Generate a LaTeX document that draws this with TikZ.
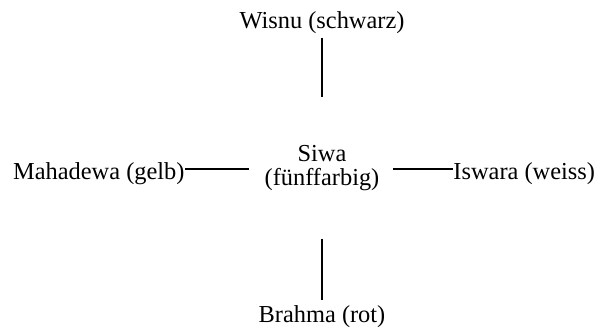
\documentclass[tikz,border=0pt]{standalone}
\usepackage{fontspec}
\setmainfont{Liberation Serif}
\usepackage{tikz}
\usetikzlibrary{positioning,calc}
\tikzset{
  every node/.append style={font=\fontsize{10pt}{9.5pt}\selectfont},
  god/.style={inner sep=0pt, align=center},
  link/.style={line width=0.8pt},
}

\begin{document}
\begin{tikzpicture}[x=0.41pt, y=-0.41pt]
\useasboundingbox (0,0) rectangle (606,329);

% ---- centre ----
\node[god] (siwa) at (322,168) {Siwa\\(fünffarbig)};

% ---- the four around it ----
\node[god, anchor=base] (wisnu)    at (322,28)  {Wisnu (schwarz)};
\node[god, anchor=base east] (mahadewa) at (185,179) {Mahadewa (gelb)};
\node[god, anchor=base west] (iswara)   at (453,179) {Iswara (weiss)};
\node[god, anchor=base] (brahma)   at (322,322) {Brahma (rot)};

% ---- connectors ----
\draw[link, shorten <=1.6pt, shorten >=19.7pt] (wisnu.south) -- (wisnu.south |- siwa.north);
\draw[link, shorten <=19.7pt, shorten >=2pt] (brahma.north |- siwa.south) -- (brahma.north);
\draw[link, shorten >=6.2pt] ([yshift=4.1pt]mahadewa.base east) -- ([yshift=4.1pt]mahadewa.base east -| siwa.west);
\draw[link, shorten <=5.3pt] ([yshift=4.1pt]iswara.base west -| siwa.east) -- ([yshift=4.1pt]iswara.base west);

\end{tikzpicture}
\end{document}
